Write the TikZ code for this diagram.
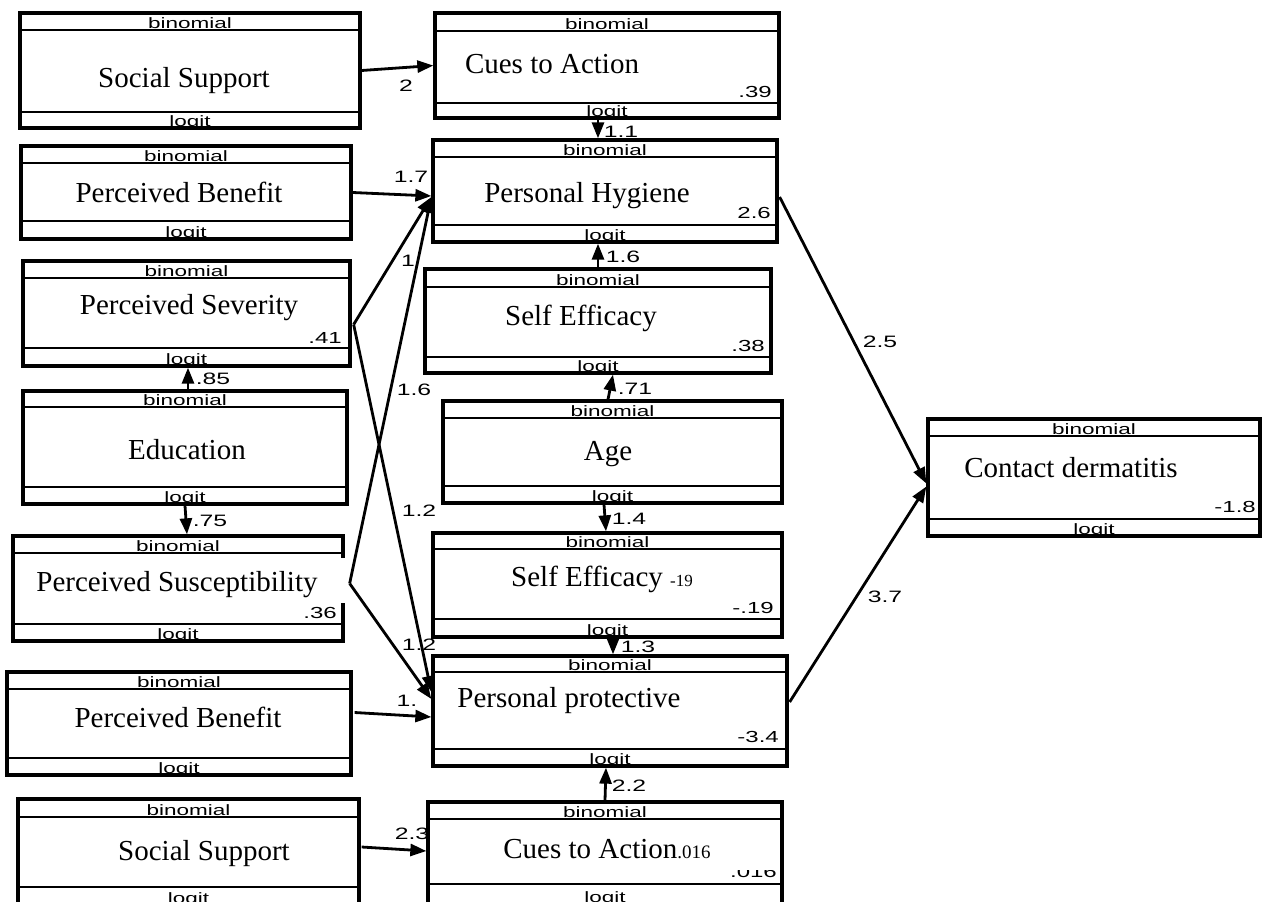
\documentclass[tikz,border=0pt]{standalone}
\usepackage{fontspec}
\setmainfont{Liberation Serif}
\newfontfamily\sansw[FakeStretch=1.5]{Liberation Sans}
\usetikzlibrary{arrows.meta,fit,calc}
\tikzset{
  boxframe/.style={draw, line width=3.3pt, inner sep=0pt},
  rowline/.style={line width=2.4pt},
  tag/.style={font=\sansw\fontsize{15}{15}\selectfont, inner sep=0pt, anchor=base},
  val/.style={font=\sansw\fontsize{16}{16}\selectfont, inner sep=0pt, anchor=base east},
  elbl/.style={font=\sansw\fontsize{16.5}{16.5}\selectfont, inner sep=0pt},
  maintxt/.style={font=\fontsize{29}{29}\selectfont, inner sep=0pt, anchor=base},
  conn/.style={line width=2.8pt, -{Triangle[length=16pt,width=12pt]}},
}
% name, x1, y1, x2, y2, binomial line y, logit line y
\newcommand{\semvar}[7]{%
  \node[boxframe, fit={(#2,#3) (#4,#5)}] (#1) {};
  \draw[rowline] (#2,#6) -- (#4,#6) (#2,#7) -- (#4,#7);
  \begin{scope}
    \clip (#2,#3) rectangle (#4,#5);
    \node[tag] (#1-b) at ({(#2+#4)/2},#6-1.5) {binomial};
    \node[tag] (#1-l) at ({(#2+#4)/2},#5-1.5) {logit};
  \end{scope}}
\begin{document}
\begin{tikzpicture}[x=1pt,y=-1pt]
\useasboundingbox (0,0) rectangle (1262,902);
\clip (0,0) rectangle (1262,902);
\fill[white] (0,0) rectangle (1262,902);

% left column
\semvar{ss1}{20}{13}{360}{128}{30}{112}
\semvar{pb1}{21}{146}{351}{239}{163}{221}
\semvar{ps}{23}{261}{350}{366}{278}{348}
\semvar{ed}{23}{391}{347}{504}{407}{487}
\semvar{psu}{13}{536}{343}{641}{553}{624}
\semvar{pb2}{7}{672}{351}{775}{689}{758}
\semvar{ss2}{18}{799}{359}{905}{817}{887}
% middle column
\semvar{cta1}{435}{13}{779}{118}{31}{103}
\semvar{ph}{433}{140}{777}{242}{157}{225}
\semvar{se1}{425}{269}{771}{373}{287}{357}
\semvar{age}{443}{401}{782}{503}{418}{486}
\semvar{se2}{433}{533}{782}{637}{549}{619}
\semvar{pp}{433}{656}{787}{766}{672}{749}
\semvar{cta2}{428}{802}{782}{904}{819}{884}
% outcome
\semvar{cd}{928}{419}{1260}{536}{436}{519}

% gap in the right border of Perceived Susceptibility
\draw[white, line width=5pt] (343,558) -- (343,603);

% main texts
\node[maintxt] (ss1-t) at (184,87) {Social Support};
\node[maintxt] (pb1-t) at (179,202) {Perceived Benefit};
\node[maintxt] (ps-t) at (189,314) {Perceived Severity};
\node[maintxt] (ed-t) at (187,459) {Education};
\node[maintxt] (psu-t) at (177,591) {Perceived Susceptibility};
\node[maintxt] (pb2-t) at (178,727) {Perceived Benefit};
\node[maintxt] (ss2-t) at (204,860) {Social Support};
\node[maintxt] (cta1-t) at (552,73) {Cues to Action};
\node[maintxt] (ph-t) at (587,202) {Personal Hygiene};
\node[maintxt] (se1-t) at (581,325) {Self Efficacy};
\node[maintxt] (age-t) at (608,460) {Age};
\node[maintxt] (se2-t) at (602,586) {Self Efficacy {\fontsize{17}{17}\selectfont -19}};
\node[maintxt] (pp-t) at (569,707) {Personal protective};
\node[maintxt] (cta2-t) at (607,858) {Cues to Action{\fontsize{19}{19}\selectfont .016}};
\node[maintxt] (cd-t) at (1071,477) {Contact dermatitis};

% values
\node[val] (cta1-v) at (772,97) {.39};
\node[val] (ph-v) at (771,218) {2.6};
\node[val] (ps-v) at (342,343) {.41};
\node[val] (psu-v) at (337,618) {.36};
\node[val] (se1-v) at (765,351) {.38};
\node[val] (se2-v) at (774,613) {-.19};
\node[val] (pp-v) at (779,742) {-3.4};
\node[val] (cd-v) at (1256,512) {-1.8};
\begin{scope}
  \clip (428,870) rectangle (782,884);
  \node[val] (cta2-v) at (777,877) {.016};
\end{scope}

% edge labels
\node[elbl] (l1) at (406,86) {2};
\node[elbl] (l2) at (411,177) {1.7};
\node[elbl] (l3) at (408,261) {1};
\node[elbl] (l4) at (414,390) {1.6};
\node[elbl] (l5) at (419,511) {1.2};
\node[elbl] (l6) at (419,645) {1.2};
\node[elbl] (l7) at (407,701) {1.};
\node[elbl] (l8) at (412,834) {2.3};
\node[elbl] (l9) at (621,132) {1.1};
\node[elbl] (l10) at (623,257) {1.6};
\node[elbl] (l11) at (213,379) {.85};
\node[elbl] (l12) at (210,521) {.75};
\node[elbl] (l13) at (635,389) {.71};
\node[elbl] (l14) at (629,519) {1.4};
\node[elbl] (l15) at (638,647) {1.3};
\node[elbl] (l16) at (629,786) {2.2};
\node[elbl] (l17) at (880,342) {2.5};
\node[elbl] (l18) at (885,597) {3.7};

% connectors
\draw[conn] (ss1.east) -- (cta1.west);
\draw[conn] (pb1.east) -- ($(ph.west)+(0,5)$);
\draw[conn] ($(ps.east)+(2,11)$) -- ($(ph.west)+(0,6)$);
\draw[conn] ($(psu.east)+(5,-5)$) -- ($(ph.west)+(0,6)$);
\draw[conn] ($(ps.east)+(2,11)$) -- ($(pp.west)+(0,-19)$);
\draw[conn] ($(psu.east)+(5,-5)$) -- ($(pp.west)+(0,-12)$);
\draw[conn] ($(pb2.east)+(2,-11)$) -- ($(pp.west)+(0,6)$);
\draw[conn] ($(ss2.east)+(1,-5)$) -- ($(cta2.west)+(0,-2)$);
\draw[conn] ($(cta1.south)+(-9,0)$) -- ($(ph.north)+(-7,0)$);
\draw[conn] (se1.north) -- ($(ph.south)+(-7,0)$);
\draw[conn] ($(ed.north)+(3,0)$) -- ($(ps.south)+(1.5,0)$);
\draw[conn] (ed.south) -- ($(psu.north)+(9,0)$);
\draw[conn] ($(age.north)+(-4.5,0)$) -- ($(se1.south)+(15,0)$);
\draw[conn] ($(age.south)+(-8.5,0)$) -- ($(se2.north)+(-1.5,0)$);
\draw[conn] ($(se2.south)+(5.5,0)$) -- ($(pp.north)+(3,0)$);
\draw[conn] (cta2.north) -- ($(pp.south)+(-4,0)$);
\draw[conn] ($(ph.east)+(1,6)$) -- ($(cd.west)+(0,6)$);
\draw[conn] ($(pp.east)+(1,-9)$) -- ($(cd.west)+(0,9)$);
\end{tikzpicture}
\end{document}
